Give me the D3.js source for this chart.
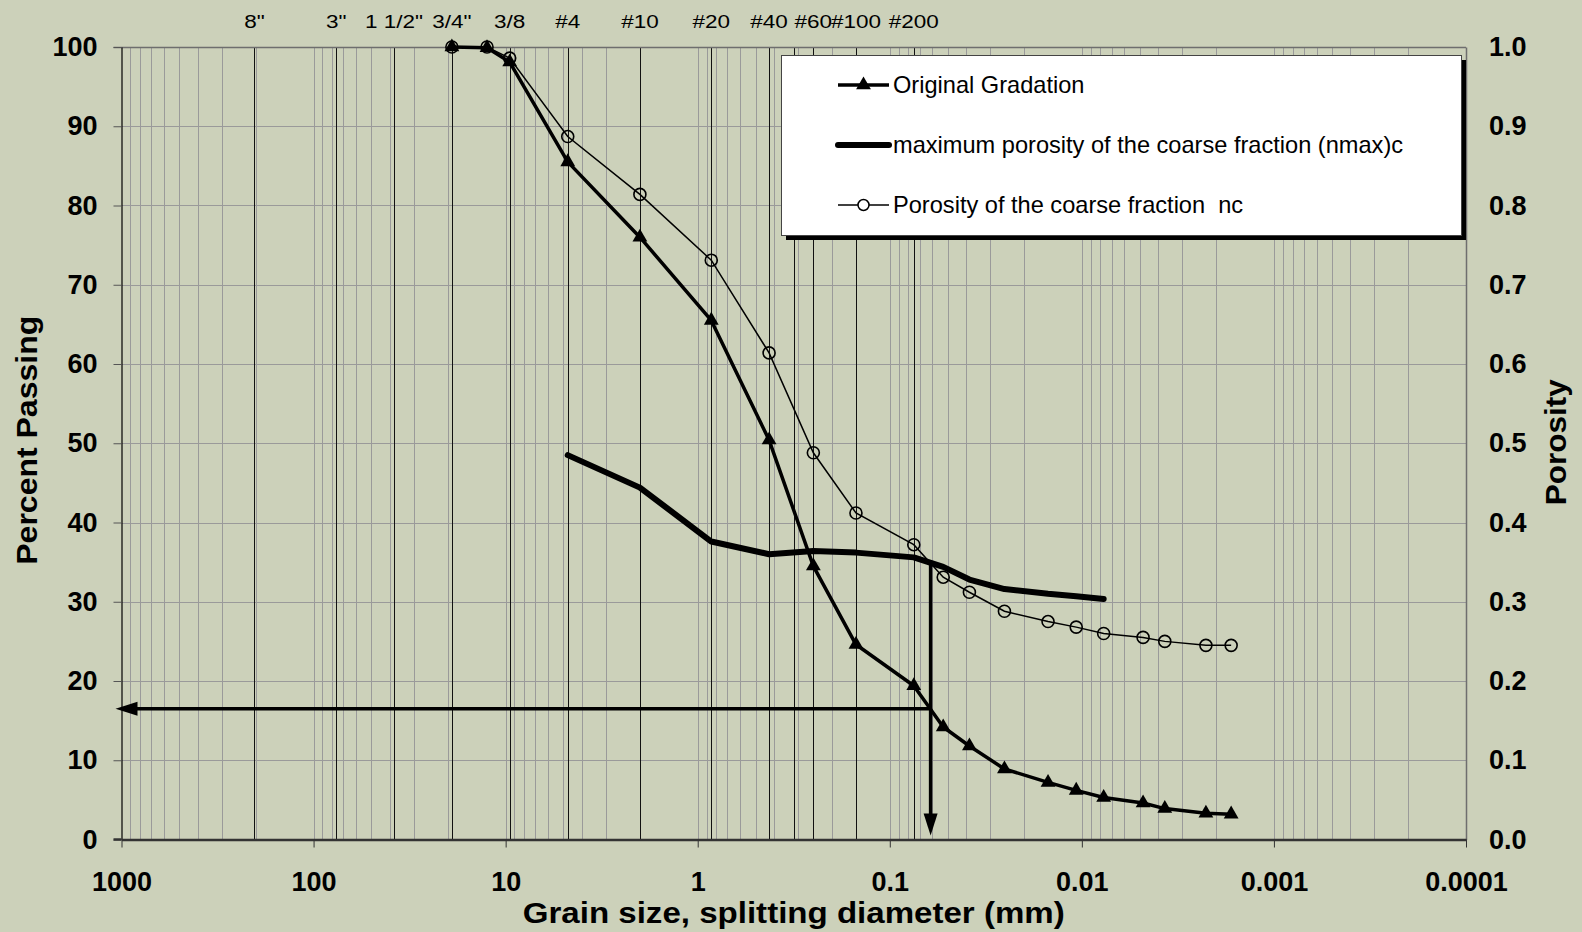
<!DOCTYPE html>
<html><head><meta charset="utf-8">
<script src="https://cdn.jsdelivr.net/npm/d3@7"></script>
<style>
html,body{margin:0;padding:0;background:#CCD1BA;}
svg{display:block;font-family:"Liberation Sans",Arial,sans-serif;}
</style>
</head><body>
<svg id="c" width="1582" height="932"></svg>
<script>
// ---------------- data ----------------
const gradationSizes = [19.05, 12.5, 9.525, 4.75, 2.0, 0.85, 0.425, 0.25, 0.15, 0.075, 0.0527, 0.0385, 0.0253, 0.0150, 0.0107, 0.0077, 0.0048, 0.0037, 0.00226, 0.00167];
const percentPassing = [100, 99.9, 98.1, 85.5, 76.0, 65.5, 50.4, 34.5, 24.6, 19.4, 14.2, 11.8, 8.9, 7.2, 6.2, 5.3, 4.6, 3.9, 3.3, 3.2];
const porosityNc = [1.0, 1.0, 0.986, 0.887, 0.814, 0.731, 0.614, 0.488, 0.412, 0.372, 0.331, 0.312, 0.288, 0.275, 0.268, 0.260, 0.255, 0.250, 0.245, 0.245];
const nmaxSizes = [4.75, 2.0, 0.85, 0.425, 0.25, 0.15, 0.075, 0.0527, 0.0385, 0.0253, 0.0150, 0.0107, 0.0077];
const nmaxPorosity = [0.485, 0.444, 0.376, 0.360, 0.364, 0.362, 0.356, 0.344, 0.328, 0.316, 0.310, 0.307, 0.3035];
const sieveSizes = [203.2, 76.2, 38.1, 19.05, 9.525, 4.75, 2.0, 0.85, 0.425, 0.315, 0.25, 0.15, 0.075];
const sieveLabels = ['8"', '3"', '1 1/2"', '3/4"', '3/8', '#4', '#10', '#20', '#40', '', '#60', '#100', '#200'];
const xTickValues = [1000, 100, 10, 1, 0.1, 0.01, 0.001, 0.0001];
const xTickLabels = ["1000", "100", "10", "1", "0.1", "0.01", "0.001", "0.0001"];
const yLeftTicks = [0, 10, 20, 30, 40, 50, 60, 70, 80, 90, 100];
const yRightTicks = [0, 0.1, 0.2, 0.3, 0.4, 0.5, 0.6, 0.7, 0.8, 0.9, 1.0];
const arrowSize = 0.0613;      // splitting diameter (mm)
const arrowPercent = 16.5;     // percent passing at splitting diameter
const arrowPorosity = 0.349;   // intersection porosity
const legendLabels = ["Original Gradation", "maximum porosity of the coarse fraction (nmax)c", "Porosity of the coarse fraction  nc"];
const xTitle = "Grain size, splitting diameter (mm)";
const yTitle = "Percent Passing";
const y2Title = "Porosity";

// ---------------- layout ----------------
const L = 121.5, R = 1466, T = 47, B = 839.5;
const bg = "#CCD1BA";
const svg = d3.select("#c");
svg.append("rect").attr("width", 1582).attr("height", 932).attr("fill", bg);

const x = d3.scaleLog().domain([1000, 0.0001]).range([L, R]);
const yL = d3.scaleLinear().domain([0, 100]).range([B, T]);
const yR = d3.scaleLinear().domain([0, 1]).range([B, T]);
const px = v => Math.round(v) + 0.5;

// minor vertical gridlines
const minor = [];
for (let e = -4; e <= 2; e++) for (let k = 1; k <= 9; k++) {
  const v = k * Math.pow(10, e);
  if (v > 0.00010001 && v < 999.9) minor.push(v);
}
const grid = svg.append("g");
grid.selectAll("line.mv").data(minor).join("line")
  .attr("x1", d => px(x(d))).attr("x2", d => px(x(d)))
  .attr("y1", T).attr("y2", B)
  .attr("stroke", "#9a9a9a").attr("stroke-width", 1);
// horizontal gridlines
grid.selectAll("line.h").data(yLeftTicks.filter(d => d > 0 && d < 100)).join("line")
  .attr("x1", L).attr("x2", R)
  .attr("y1", d => px(yL(d))).attr("y2", d => px(yL(d)))
  .attr("stroke", "#9a9a9a").attr("stroke-width", 1);
// sieve lines
grid.selectAll("line.s").data(sieveSizes).join("line")
  .attr("x1", d => px(x(d))).attr("x2", d => px(x(d)))
  .attr("y1", T).attr("y2", B)
  .attr("stroke", "#111").attr("stroke-width", 1);
// sieve labels
svg.append("g").selectAll("text").data(sieveLabels).join("text")
  .attr("transform", (d, i) => `translate(${x(sieveSizes[i])},28) scale(1.25,1)`)
  .attr("text-anchor", "middle").attr("font-size", 18).attr("fill", "#000")
  .text(d => d);

// plot frame (top)
svg.append("line").attr("x1", L - 8).attr("x2", R).attr("y1", px(T)).attr("y2", px(T)).attr("stroke", "#6e6e6e").attr("stroke-width", 1.5);
// axes
const axL = svg.append("g").attr("transform", `translate(${L},0)`)
  .call(d3.axisLeft(yL).tickValues(yLeftTicks).tickSize(8).tickSizeOuter(0).tickPadding(16).tickFormat(d3.format("d")));
axL.select(".domain").attr("stroke", "#000").attr("stroke-width", 1.2);
axL.selectAll(".tick line").attr("stroke", "#555");
axL.selectAll("text").attr("font-size", 27).attr("font-weight", "bold").attr("font-family", "Liberation Sans, Arial, sans-serif").attr("fill", "#000");

const axR = svg.append("g").attr("transform", `translate(${R},0)`)
  .call(d3.axisRight(yR).tickValues(yRightTicks).tickSize(0).tickSizeOuter(0).tickPadding(23).tickFormat(d3.format(".1f")));
axR.select(".domain").attr("stroke", "#6e6e6e").attr("stroke-width", 1.5);
axR.selectAll("text").attr("font-size", 27).attr("font-weight", "bold").attr("font-family", "Liberation Sans, Arial, sans-serif").attr("fill", "#000");

const axB = svg.append("g").attr("transform", `translate(0,${B})`)
  .call(d3.axisBottom(x).tickValues(xTickValues).tickSize(8).tickSizeOuter(0).tickFormat((d, i) => xTickLabels[i]));
axB.select(".domain").attr("stroke", "#333").attr("stroke-width", 2.5);
axB.selectAll(".tick line").attr("stroke", "#333");
axB.selectAll("text").attr("y", 51).attr("dy", null)
  .attr("font-size", 27).attr("font-weight", "bold").attr("font-family", "Liberation Sans, Arial, sans-serif").attr("fill", "#000");
svg.append("line").attr("x1", L - 8).attr("x2", L).attr("y1", B).attr("y2", B).attr("stroke", "#333").attr("stroke-width", 2.5);

// ---------------- series ----------------
const grad = gradationSizes.map((s, i) => ({ s, p: percentPassing[i], n: porosityNc[i] }));
const nmax = nmaxSizes.map((s, i) => ({ s, n: nmaxPorosity[i] }));

svg.append("path").datum(nmax)
  .attr("d", d3.line().x(d => x(d.s)).y(d => yR(d.n)))
  .attr("fill", "none").attr("stroke", "#000").attr("stroke-width", 6)
  .attr("stroke-linejoin", "round").attr("stroke-linecap", "round");

svg.append("path").datum(grad)
  .attr("d", d3.line().x(d => x(d.s)).y(d => yR(d.n)))
  .attr("fill", "none").attr("stroke", "#000").attr("stroke-width", 1.5);
svg.append("g").selectAll("circle").data(grad).join("circle")
  .attr("cx", d => x(d.s)).attr("cy", d => yR(d.n)).attr("r", 6)
  .attr("fill", "none").attr("stroke", "#000").attr("stroke-width", 1.6);

svg.append("path").datum(grad)
  .attr("d", d3.line().x(d => x(d.s)).y(d => yL(d.p)))
  .attr("fill", "none").attr("stroke", "#000").attr("stroke-width", 3.5).attr("stroke-linejoin", "round");
const tri = d3.symbol(d3.symbolTriangle, 95);
svg.append("g").selectAll("path").data(grad).join("path")
  .attr("transform", d => `translate(${x(d.s)},${yL(d.p)})`)
  .attr("d", tri()).attr("fill", "#000");

// ---------------- arrows ----------------
const ax = x(arrowSize);
const arrows = svg.append("g");
const vTip = yL(0) - 4, hTip = x(1000) - 6;
arrows.append("line").attr("x1", ax).attr("x2", ax).attr("y1", yR(arrowPorosity)).attr("y2", vTip - 18)
  .attr("stroke", "#000").attr("stroke-width", 3.5);
arrows.append("path").attr("d", `M${ax - 7},${vTip - 22}L${ax + 7},${vTip - 22}L${ax},${vTip}Z`).attr("fill", "#000");
arrows.append("line").attr("x1", ax).attr("x2", hTip + 18).attr("y1", yL(arrowPercent)).attr("y2", yL(arrowPercent))
  .attr("stroke", "#000").attr("stroke-width", 3.5);
arrows.append("path").attr("d", `M${hTip + 22},${yL(arrowPercent) - 7}L${hTip + 22},${yL(arrowPercent) + 7}L${hTip},${yL(arrowPercent)}Z`).attr("fill", "#000");

// ---------------- legend ----------------
const lg = svg.append("g");
const lx = 781, ly = 55, lw = 680, lh = 180;
lg.append("rect").attr("x", lx + 5).attr("y", ly + 5).attr("width", lw).attr("height", lh).attr("fill", "#000");
lg.append("rect").attr("x", lx + 0.5).attr("y", ly + 0.5).attr("width", lw).attr("height", lh).attr("fill", "#fff").attr("stroke", "#444").attr("stroke-width", 1);
const rowsY = [85, 145, 205];
const sx1 = 838, sx2 = 889;
lg.append("line").attr("x1", sx1).attr("x2", sx2).attr("y1", rowsY[0]).attr("y2", rowsY[0]).attr("stroke", "#000").attr("stroke-width", 3.5);
lg.append("path").attr("transform", `translate(${(sx1 + sx2) / 2},${rowsY[0]})`).attr("d", tri()).attr("fill", "#000");
lg.append("line").attr("x1", sx1).attr("x2", sx2).attr("y1", rowsY[1]).attr("y2", rowsY[1]).attr("stroke", "#000").attr("stroke-width", 6).attr("stroke-linecap", "round");
lg.append("line").attr("x1", sx1).attr("x2", sx2).attr("y1", rowsY[2]).attr("y2", rowsY[2]).attr("stroke", "#000").attr("stroke-width", 1.5);
lg.append("circle").attr("cx", (sx1 + sx2) / 2).attr("cy", rowsY[2]).attr("r", 5.5).attr("fill", "#fff").attr("stroke", "#000").attr("stroke-width", 1.5);
lg.selectAll("text").data(legendLabels).join("text")
  .attr("x", 893).attr("y", (d, i) => rowsY[i]).attr("dy", "0.35em")
  .attr("font-size", 23.6).attr("fill", "#000").style("white-space", "pre")
  .text(d => d);

// ---------------- titles ----------------
svg.append("text").attr("x", (L + R) / 2).attr("y", 923).attr("text-anchor", "middle")
  .attr("font-size", 29).attr("font-weight", "bold")
  .attr("textLength", 542).attr("lengthAdjust", "spacingAndGlyphs").text(xTitle);
svg.append("text").attr("transform", `translate(37,${(T + B) / 2 - 3}) rotate(-90)`).attr("text-anchor", "middle")
  .attr("font-size", 29).attr("font-weight", "bold")
  .attr("textLength", 249).attr("lengthAdjust", "spacingAndGlyphs").text(yTitle);
svg.append("text").attr("transform", `translate(1566,${(T + B) / 2 - 1}) rotate(-90)`).attr("text-anchor", "middle")
  .attr("font-size", 29).attr("font-weight", "bold")
  .attr("textLength", 126).attr("lengthAdjust", "spacingAndGlyphs").text(y2Title);
</script>
</body></html>
